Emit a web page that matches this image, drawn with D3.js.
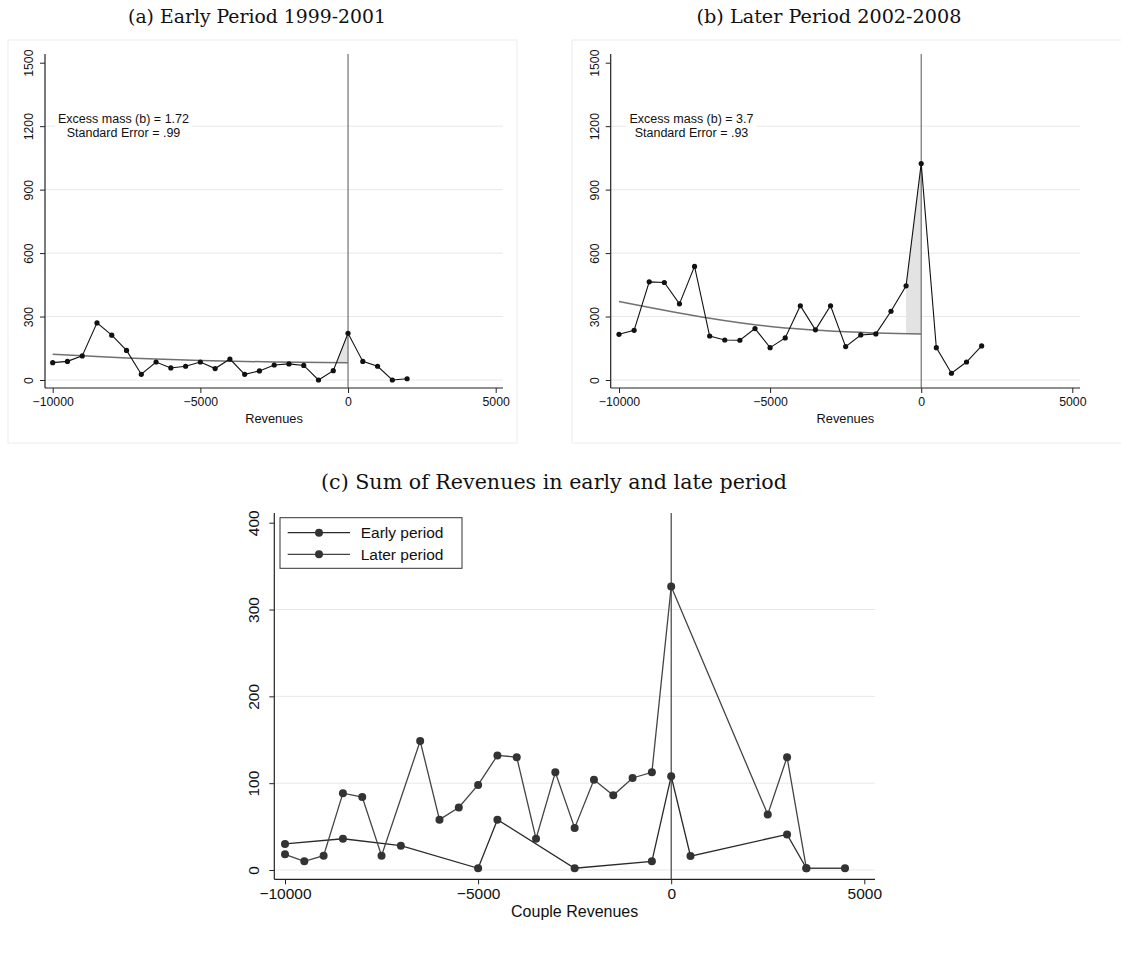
<!DOCTYPE html>
<html>
<head>
<meta charset="utf-8">
<script src="https://cdn.jsdelivr.net/npm/d3@7"></script>
<style>
  html, body { margin: 0; padding: 0; background: #fff; }
  svg { display: block; }
</style>
</head>
<body>
<svg id="chart" width="1121" height="973"></svg>
<script>
// ---------------- DATA ----------------
// Panels (a) and (b): bins of revenues (step 500)
const binsAB = d3.range(-10000, 2001, 500);
const earlyCounts = [82, 88, 114, 270, 212, 140, 27, 85, 57, 65, 85, 54, 99, 27, 43, 71, 76, 69, 0, 44, 221, 88, 65, 0, 6];
const laterCounts = [216, 235, 464, 461, 360, 537, 208, 189, 188, 243, 153, 199, 351, 237, 351, 158, 213, 218, 325, 445, 1023, 153, 32, 85, 161];
// Fitted counterfactual density (read at a few points)
const fitX = [-10000, -7500, -5000, -2500, 0];
const earlyFit = [122, 104, 92, 85, 82];
const laterFit = [371, 304, 253, 228, 218];
const excludedFrom = -500;   // excluded region start
const yTicksAB = [0, 300, 600, 900, 1200, 1500];
const xTicksAll = [-10000, -5000, 0, 5000];
const annotA = ["Excess mass (b) = 1.72", "Standard Error = .99"];
const annotB = ["Excess mass (b) = 3.7", "Standard Error = .93"];

// Panel (c)
const earlyCX = [-10000, -8500, -7000, -5000, -4500, -2500, -500, 0, 500, 3000, 3500];
const earlyCY = [30, 36, 28, 2, 58, 2, 10, 108, 16, 41, 2];
const laterCX = [-10000, -9500, -9000, -8500, -8000, -7500, -6500, -6000, -5500, -5000, -4500, -4000, -3500, -3000, -2500, -2000, -1500, -1000, -500, 0, 2500, 3000, 3500, 4500];
const laterCY = [18, 10, 16.5, 88.5, 84, 16.5, 148.5, 58, 72, 98, 132, 130, 36, 112.5, 48.5, 104, 86, 106, 112.5, 326.5, 64, 130, 2, 2];
const yTicksC = [0, 100, 200, 300, 400];
const legendLabels = ["Early period", "Later period"];

const titles = ["(a) Early Period 1999-2001", "(b) Later Period 2002-2008", "(c) Sum of Revenues in early and late period"];

// ---------------- DRAW ----------------
const svg = d3.select("#chart");
const SANS = "'Liberation Sans', Arial, Helvetica, sans-serif";
const SERIF = "'DejaVu Serif', 'Liberation Serif', serif";
const fmt = v => (v < 0 ? "\u2212" + Math.abs(v) : String(v));

function title(txt, cx, baseline, width) {
  const t = svg.append("text").attr("x", cx).attr("y", baseline)
    .attr("text-anchor", "middle").attr("font-family", SERIF)
    .attr("font-size", 17).attr("fill", "#111").text(txt);
  const w = t.node().getComputedTextLength();
  t.attr("font-size", 17 * width / w);
}

function axes(g, frame, x, y, yTicks, xLabel, st) {
  // gridlines (except top tick)
  g.append("g").selectAll("line").data(yTicks.slice(0, -1)).join("line")
    .attr("x1", frame.left).attr("x2", frame.right)
    .attr("y1", d => y(d)).attr("y2", d => y(d))
    .attr("stroke", "#e8e8e8").attr("stroke-width", 1);
  // y axis
  const ya = g.append("g").attr("transform", `translate(${frame.left},0)`)
    .call(d3.axisLeft(y).tickValues(yTicks).tickSize(5).tickSizeOuter(0).tickFormat(fmt));
  ya.select(".domain").remove();
  ya.selectAll(".tick line").attr("stroke", "#222");
  ya.selectAll(".tick text").attr("font-family", SANS).attr("font-size", st.fs).attr("fill", "#111")
    .attr("transform", "rotate(-90)").attr("text-anchor", "middle")
    .attr("x", 0).attr("y", -st.yOff).attr("dy", "0");
  g.append("line").attr("x1", frame.left).attr("x2", frame.left)
    .attr("y1", frame.top).attr("y2", frame.bottom).attr("stroke", "#222").attr("stroke-width", 1.2);
  // x axis
  const xa = g.append("g").attr("transform", `translate(0,${frame.bottom})`)
    .call(d3.axisBottom(x).tickValues(xTicksAll).tickSize(5).tickSizeOuter(0).tickFormat(fmt));
  xa.select(".domain").remove();
  xa.selectAll(".tick line").attr("stroke", "#222");
  xa.selectAll(".tick text").attr("font-family", SANS).attr("font-size", st.fs).attr("fill", "#111")
    .attr("dy", "0.71em").attr("y", st.xOff);
  g.append("line").attr("x1", frame.left).attr("x2", frame.right)
    .attr("y1", frame.bottom).attr("y2", frame.bottom).attr("stroke", "#222").attr("stroke-width", 1.2);
  g.append("text").attr("x", (frame.left + frame.right) / 2).attr("y", frame.bottom + st.titleOff)
    .attr("text-anchor", "middle").attr("font-family", SANS).attr("font-size", st.titleFs).attr("fill", "#111")
    .text(xLabel);
}

function bunchPanel(box, frame, xr, counts, fit, annot, annotCx) {
  const g = svg.append("g");
  g.append("rect").attr("x", box.x).attr("y", box.y).attr("width", box.w).attr("height", box.h)
    .attr("fill", "#fff").attr("stroke", "#ececec").attr("stroke-width", 1);
  const x = d3.scaleLinear().domain([-10000, 5000]).range(xr);
  const y = d3.scaleLinear().domain([0, 1500]).range([frame.bottom - 8, frame.top + 8.7]);
  axes(g, frame, x, y, yTicksAB, "Revenues", {fs: 12.3, yOff: 12, xOff: 9, titleOff: 34.5, titleFs: 12.8});

  // shaded excess mass between fit and data on [excludedFrom, 0]
  const fitAt = v => {
    const i = d3.bisectLeft(fitX, v);
    if (fitX[i] === v) return fit[i];
    const t = (v - fitX[i - 1]) / (fitX[i] - fitX[i - 1]);
    return fit[i - 1] + t * (fit[i] - fit[i - 1]);
  };
  const i0 = binsAB.indexOf(excludedFrom), i1 = binsAB.indexOf(0);
  const d0 = counts[i0], d1 = counts[i1], f0 = fitAt(excludedFrom), f1 = fitAt(0);
  let pts;
  if (d0 >= f0) {
    pts = [[excludedFrom, f0], [excludedFrom, d0], [0, d1], [0, f1]];
  } else {
    const t = (f0 - d0) / ((d1 - d0) - (f1 - f0));
    const xc = excludedFrom + t * (0 - excludedFrom);
    const yc = d0 + t * (d1 - d0);
    pts = [[xc, yc], [0, d1], [0, f1]];
  }
  g.append("path").attr("d", d3.line()(pts.map(p => [x(p[0]), y(p[1])])) + "Z")
    .attr("fill", "#e3e3e3").attr("stroke", "none");

  // vertical line at 0
  g.append("line").attr("x1", x(0)).attr("x2", x(0)).attr("y1", frame.top).attr("y2", frame.bottom)
    .attr("stroke", "#555").attr("stroke-width", 1);

  // fit curve
  g.append("path").datum(fitX.map((v, i) => [v, fit[i]]))
    .attr("d", d3.line().x(d => x(d[0])).y(d => y(d[1])).curve(d3.curveMonotoneX))
    .attr("fill", "none").attr("stroke", "#707070").attr("stroke-width", 1.5);

  // data line + markers
  const data = binsAB.map((v, i) => [v, counts[i]]);
  g.append("path").datum(data)
    .attr("d", d3.line().x(d => x(d[0])).y(d => y(d[1])))
    .attr("fill", "none").attr("stroke", "#111").attr("stroke-width", 1.1);
  g.append("g").selectAll("circle").data(data).join("circle")
    .attr("cx", d => x(d[0])).attr("cy", d => y(d[1])).attr("r", 2.6).attr("fill", "#111");

  // annotation with white background
  const ag = g.append("g");
  const bg = ag.append("rect").attr("fill", "#fff");
  annot.forEach((s, i) => {
    ag.append("text").attr("x", annotCx).attr("y", 123 + i * 14.3)
      .attr("text-anchor", "middle").attr("font-family", SANS).attr("font-size", 12.5).attr("fill", "#111").text(s);
  });
  const bb = ag.node().getBBox();
  bg.attr("x", bb.x - 3).attr("y", bb.y - 1).attr("width", bb.width + 6).attr("height", bb.height + 2);
}

// Panel (a)
title(titles[0], 257, 23, 258);
bunchPanel({x: 8, y: 40, w: 509, h: 403}, {left: 45, right: 503, top: 54, bottom: 388},
  [52.7, 495.7], earlyCounts, earlyFit, annotA, 123.5);

// Panel (b)
title(titles[1], 829, 23, 265);
bunchPanel({x: 572, y: 40, w: 560, h: 403}, {left: 610.7, right: 1080, top: 54, bottom: 388},
  [619, 1072.3], laterCounts, laterFit, annotB, 691.5);

// Panel (c)
title(titles[2], 554, 489, 466);
(function () {
  const frame = {left: 274.3, right: 875, top: 513, bottom: 879.3};
  const g = svg.append("g");
  const x = d3.scaleLinear().domain([-10000, 5000]).range([285, 864.3]);
  const y = d3.scaleLinear().domain([0, 400]).range([870, 522.7]);
  axes(g, frame, x, y, yTicksC, "Couple Revenues", {fs: 15.5, yOff: 15.5, xOff: 9, titleOff: 37.5, titleFs: 16});
  g.append("line").attr("x1", x(0)).attr("x2", x(0)).attr("y1", frame.top).attr("y2", frame.bottom)
    .attr("stroke", "#333").attr("stroke-width", 1.1);
  const series = [
    {xs: earlyCX, ys: earlyCY, line: "#2a2a2a"},
    {xs: laterCX, ys: laterCY, line: "#444"}
  ];
  series.forEach(s => {
    const data = s.xs.map((v, i) => [v, s.ys[i]]);
    g.append("path").datum(data).attr("d", d3.line().x(d => x(d[0])).y(d => y(d[1])))
      .attr("fill", "none").attr("stroke", s.line).attr("stroke-width", 1.3);
    g.append("g").selectAll("circle").data(data).join("circle")
      .attr("cx", d => x(d[0])).attr("cy", d => y(d[1])).attr("r", 4).attr("fill", "#333");
  });
  // legend
  const lg = g.append("g");
  lg.append("rect").attr("x", 280).attr("y", 517.7).attr("width", 182).attr("height", 50.6)
    .attr("fill", "#fff").attr("stroke", "#333").attr("stroke-width", 1);
  legendLabels.forEach((lab, i) => {
    const yy = 532.7 + i * 21.6;
    lg.append("line").attr("x1", 287.7).attr("x2", 350).attr("y1", yy).attr("y2", yy)
      .attr("stroke", series[i].line).attr("stroke-width", 1.3);
    lg.append("circle").attr("cx", 319).attr("cy", yy).attr("r", 4).attr("fill", "#333");
    lg.append("text").attr("x", 360.7).attr("y", yy).attr("dy", "0.35em")
      .attr("font-family", SANS).attr("font-size", 15.5).attr("fill", "#111").text(lab);
  });
})();
</script>
</body>
</html>
